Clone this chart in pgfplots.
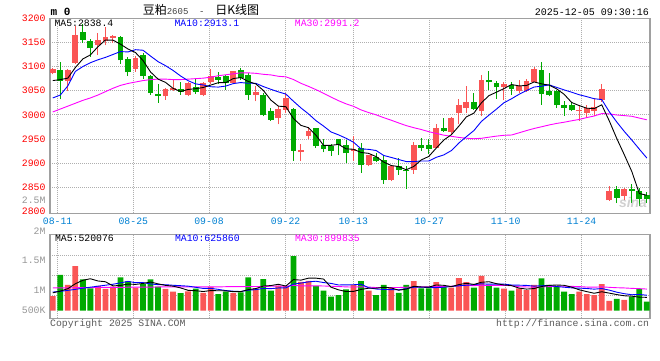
\documentclass[border=0pt]{standalone}
\usepackage{pgfplots}
\pgfplotsset{compat=1.18}
\usepackage{pgfplotstable}
\usepackage{fontspec}
\setmainfont{Liberation Mono}
\newfontfamily\mono{Liberation Mono}
\newfontfamily\cjk{Noto Sans CJK SC}
\newfontfamily\sansf{Liberation Sans}
\definecolor{cred}{RGB}{250,85,85}
\definecolor{cgreen}{RGB}{0,170,0}
\definecolor{cmag}{RGB}{255,0,255}
\definecolor{cblue}{RGB}{0,0,255}
\definecolor{cdate}{RGB}{0,128,210}
\definecolor{clab}{RGB}{150,150,150}
\definecolor{cframe}{RGB}{160,160,160}
\definecolor{cgrid}{RGB}{175,175,175}

% rising days: k O H L C V(million)
\pgfplotstableread{
k O H L C V
0 3087 3098 3084 3096 0.60
2 3071 3094 3049 3092 1.05
3 3108 3185 3106 3165 1.82
6 3144 3169 3124 3155 1.01
7 3153 3183 3144 3162 0.89
8 3159 3166 3149 3164 0.98
11 3094 3121 3089 3118 0.94
15 3038 3056 3031 3054 0.89
16 3051 3075 3049 3056 0.78
18 3042 3068 3038 3066 0.79
20 3042 3069 3038 3066 0.73
21 3069 3096 3063 3081 0.97
24 3066 3091 3063 3090 0.72
27 3041 3059 3028 3047 0.91
30 2994 3018 2980 3013 1.01
31 3011 3046 3004 3035 1.00
33 2922 2939 2904 2928 1.18
34 2956 2975 2949 2966 1.22
40 2926 2956 2904 2930 1.05
42 2897 2917 2893 2916 0.82
45 2864 2896 2862 2894 0.94
48 2885 2943 2878 2938 1.21
51 2932 2982 2931 2973 1.17
53 2964 2996 2961 2993 0.94
54 3003 3032 2980 3021 1.33
55 3014 3059 3004 3026 1.17
57 3007 3083 2997 3073 1.42
60 3057 3068 3030 3063 0.90
62 3049 3073 3045 3059 0.91
63 3049 3075 3048 3071 0.84
64 3069 3099 3068 3094 1.05
70 3009 3021 2987 3011 0.78
71 3003 3021 2994 3014 0.68
72 3007 3035 2998 3016 0.64
73 3030 3063 3027 3054 1.09
74 2823 2852 2822 2843 0.40
76 2832 2849 2823 2846 0.44
}\redtab

% falling days
\pgfplotstableread{
k O H L C V
1 3092 3109 3032 3071 1.46
4 3172 3189 3149 3155 1.28
5 3153 3157 3120 3138 0.91
9 3161 3164 3106 3113 1.36
10 3116 3119 3080 3088 1.20
12 3123 3128 3074 3080 1.08
13 3080 3082 3042 3045 1.28
14 3044 3064 3025 3039 0.98
17 3054 3069 3042 3048 0.72
19 3057 3076 3044 3047 0.90
22 3078 3088 3063 3073 0.68
23 3080 3082 3052 3066 0.78
25 3092 3098 3073 3076 0.75
26 3082 3087 3031 3041 1.36
28 3042 3045 2997 2999 1.29
29 3007 3014 2987 2990 0.82
32 3013 3015 2905 2925 2.23
35 2972 2973 2932 2935 1.01
36 2937 2950 2922 2930 0.82
37 2935 2940 2915 2925 0.57
38 2949 2950 2916 2938 0.64
39 2937 2947 2901 2920 0.87
41 2932 2942 2880 2897 1.21
43 2913 2921 2902 2904 0.64
44 2907 2917 2857 2864 1.05
46 2893 2911 2876 2886 0.73
47 2886 2895 2847 2883 1.05
49 2938 2952 2925 2932 0.91
50 2938 2949 2918 2930 0.91
52 2973 2993 2964 2966 0.98
56 3026 3045 3010 3012 0.94
58 3073 3090 3051 3067 1.05
59 3065 3070 3033 3057 0.94
61 3061 3069 3042 3054 0.82
65 3092 3110 3021 3043 1.32
66 3049 3087 3038 3041 1.05
67 3050 3051 3014 3020 0.98
68 3021 3028 2998 3015 0.78
69 3021 3026 3007 3009 0.68
75 2846 2852 2817 2828 0.48
77 2846 2856 2817 2842 0.55
78 2842 2849 2812 2826 0.89
79 2834 2841 2818 2825 0.37
}\greentab

% moving averages of price and volume
\pgfplotstableread{
k ma5 ma10 ma30 vma5 vma10 vma30
0 3071 3035 3006 0.73 0.76 0.93
1 3073 3041 3012 0.80 0.79 0.93
2 3076 3060 3018 0.90 0.83 0.93
3 3098 3090 3024 1.10 0.87 0.94
4 3115.8 3100 3030 1.242 0.92 0.94
5 3124.2 3108 3035 1.304 0.96 0.94
6 3141 3114 3041 1.214 1.00 0.95
7 3155 3119 3048 1.182 1.04 0.95
8 3154.8 3125 3055 1.014 1.08 0.95
9 3146.4 3131.1 3061 1.03 1.136 0.95
10 3136.4 3130.3 3065 1.088 1.196 0.96
11 3129 3135 3068 1.074 1.144 0.96
12 3112.6 3133.8 3071 1.112 1.147 0.96
13 3088.8 3121.8 3073 1.172 1.093 0.96
14 3074 3110.2 3074 1.096 1.063 0.97
15 3067.2 3101.8 3074 1.034 1.061 0.97
16 3054.8 3091.9 3073 1.002 1.038 0.97
17 3048.4 3080.5 3073 0.93 1.021 0.97
18 3052.6 3070.7 3074 0.832 1.002 0.97
19 3054.2 3064.1 3075 0.816 0.956 0.97
20 3056.6 3061.9 3076 0.784 0.909 0.97
21 3061.6 3058.2 3078 0.822 0.912 0.97
22 3066.6 3057.5 3081 0.814 0.872 0.97
23 3066.6 3059.6 3083 0.812 0.822 0.98
24 3075.2 3064.7 3085 0.776 0.796 0.98
25 3077.2 3066.9 3087 0.78 0.782 0.98
26 3069.2 3065.4 3087 0.858 0.84 0.98
27 3064 3065.3 3086 0.904 0.859 0.99
28 3050.6 3058.6 3084 1.006 0.909 0.99
29 3030.6 3052.9 3082.7 1.026 0.901 0.998
30 3018 3047.6 3079.9 1.078 0.929 1.011
31 3016.8 3043 3078.7 1.006 0.932 0.996
32 2992.4 3028.2 3073.2 1.27 1.087 1.035
33 2978.2 3014.4 3065.3 1.248 1.127 1.014
34 2973.4 3002 3059 1.328 1.177 1.012
35 2957.8 2987.9 3052.2 1.328 1.203 1.015
36 2936.8 2976.8 3044.7 1.292 1.149 1.009
37 2936.8 2964.6 3036.8 0.96 1.115 0.998
38 2938.8 2958.5 3029.3 0.852 1.05 0.987
39 2929.6 2951.5 3022.8 0.782 1.055 0.971
40 2928.6 2943.2 3017.6 0.79 1.059 0.966
41 2922 2929.4 3010.2 0.868 1.08 0.975
42 2920.2 2928.5 3004.7 0.918 0.939 0.966
43 2913.4 2926.1 3000 0.918 0.885 0.945
44 2902.2 2915.9 2994.2 0.954 0.868 0.947
45 2895 2911.8 2988.9 0.932 0.861 0.949
46 2892.8 2907.4 2983.2 0.836 0.852 0.947
47 2886.2 2903.2 2977.7 0.882 0.90 0.958
48 2893 2903.2 2973.4 0.996 0.957 0.972
49 2906.6 2904.4 2969.6 0.968 0.961 0.972
50 2913.8 2904.4 2965.1 0.962 0.947 0.978
51 2931.2 2912 2961.5 1.05 0.943 0.985
52 2947.8 2917 2957.9 1.036 0.959 0.995
53 2958.8 2925.9 2955.5 0.982 0.989 1.0
54 2976.6 2941.6 2953.2 1.066 1.017 1.021
55 2995.8 2954.8 2951.5 1.118 1.04 1.035
56 3003.6 2967.4 2950.5 1.072 1.061 1.021
57 3025 2986.4 2951.4 1.16 1.098 1.038
58 3039.8 2999.3 2953.7 1.182 1.082 1.03
59 3047 3011.8 2955.9 1.104 1.085 1.034
60 3054.4 3025.1 2957.6 1.05 1.084 1.03
61 3062.8 3033.2 2958.2 1.026 1.049 1.024
62 3060 3042.5 2962.7 0.924 1.042 0.98
63 3060.8 3050.3 2967.4 0.882 1.032 0.969
64 3068.2 3057.6 2971.7 0.904 1.004 0.963
65 3064.2 3059.3 2975.3 0.988 1.019 0.973
66 3061.6 3062.2 2979 1.034 1.03 0.981
67 3053.8 3056.9 2982.2 1.048 0.986 0.995
68 3042.6 3051.7 2984.7 1.036 0.959 0.999
69 3025.6 3046.9 2987.7 0.962 0.933 0.993
70 3019.2 3041.7 2990.4 0.854 0.921 0.984
71 3013.8 3037.7 2994.3 0.78 0.907 0.966
72 3013 3033.4 2997.6 0.712 0.88 0.96
73 3020.8 3031.7 3002.6 0.774 0.905 0.975
74 2987.6 3006.6 3001.9 0.718 0.84 0.954
75 2951 2985.1 2999.7 0.658 0.756 0.938
76 2917.4 2965.6 2998.4 0.61 0.695 0.929
77 2882.6 2947.8 2997 0.592 0.652 0.912
78 2837 2928.9 2993.3 0.552 0.663 0.901
79 2833.4 2910.5 2989.7 0.546 0.632 0.883
}\matab

\pgfplotsset{
  sinaax/.style={
    scale only axis, width=600pt,
    xmin=-0.37, xmax=79.42,
    axis line style={cframe, line width=1.3pt},
    grid=major,
    major grid style={cgrid, dash pattern=on 1pt off 1pt, line width=0.8pt},
    major tick length=0pt,
    xtick={0.65,10.71,20.77,30.97,39.96,50.07,60.23,70.33},
    clip=true,
  },
  wick/.style={draw=none, mark=none, forget plot,
    error bars/.cd, y dir=plus, y explicit, error mark=none,
    error bar style={draw=#1, line width=1pt}},
  body/.style={draw=none, mark=none, forget plot,
    error bars/.cd, y dir=plus, y explicit, error mark=none,
    error bar style={draw=#1, line width=5.8pt}},
}

\newcommand{\lab}{\mono\fontsize{9.8}{10}\selectfont}

\begin{document}
\begin{tikzpicture}[x=1pt,y=1pt]
\useasboundingbox (0,0) rectangle (660,360);

% ---------- price panel ----------
\begin{axis}[sinaax, at={(50pt,146.7pt)}, anchor=south west, height=195pt,
  ymin=2796, ymax=3200,
  ytick={2850,2900,2950,3000,3050,3100,3150},
  yticklabels={2850,2900,2950,3000,3050,3100,3150},
  extra y ticks={2800,3200}, extra y tick labels={2800,3200},
  extra y tick style={grid=none},
  yticklabel style={font=\lab, text=red, anchor=east, inner sep=0pt, xshift=-4.3pt},
  xticklabels={08-11,08-25,09-08,09-22,10-13,10-27,11-10,11-24},
  xticklabel style={font=\lab, text=cdate, anchor=center, inner sep=0pt, yshift=-7.6pt},
]
\addplot[wick=cred] table[x=k, y=L, y error expr=\thisrow{H}-\thisrow{L}] {\redtab};
\addplot[wick=cgreen] table[x=k, y=L, y error expr=\thisrow{H}-\thisrow{L}] {\greentab};
\addplot[body=cred] table[x=k, y=O, y error expr=\thisrow{C}-\thisrow{O}] {\redtab};
\addplot[body=cgreen] table[x=k, y=C, y error expr=\thisrow{O}-\thisrow{C}] {\greentab};
\addplot[cmag, line width=0.9pt, mark=none] table[x=k, y=ma30] {\matab};
\addplot[cblue, line width=0.9pt, mark=none] table[x=k, y=ma10] {\matab};
\addplot[black, line width=0.9pt, mark=none] table[x=k, y=ma5] {\matab};
\end{axis}

% ---------- volume panel ----------
\begin{axis}[sinaax, at={(50pt,41.7pt)}, anchor=south west, height=84pt,
  ymin=-0.31, ymax=3.118,
  ytick={0.641,1.457,2.273}, yticklabels={},
  xticklabels={},
]
\addplot[ybar, bar width=5.8pt, bar shift=0pt, fill=cred, draw=none] table[x=k, y=V] {\redtab};
\addplot[ybar, bar width=5.8pt, bar shift=0pt, fill=cgreen, draw=none] table[x=k, y=V] {\greentab};
\addplot[cmag, line width=0.9pt, mark=none] table[x=k, y=vma30] {\matab};
\addplot[cblue, line width=0.9pt, mark=none] table[x=k, y=vma10] {\matab};
\addplot[black, line width=0.9pt, mark=none] table[x=k, y=vma5] {\matab};
\end{axis}

% ---------- texts ----------
\node[anchor=west, inner sep=0pt, font=\mono\bfseries\fontsize{11}{11}\selectfont] at (50.5,348) {m 0};
\node[anchor=center, inner sep=0pt] at (201,350.5) {\cjk\fontsize{12}{12}\selectfont 豆粕{\mono\fontsize{9}{9}\selectfont\color{black!75}2605\ \ -\ \ }日K线图};
\node[anchor=east, inner sep=0pt, font=\mono\fontsize{10}{10}\selectfont] at (649,347.8) {2025-12-05 09:30:16};

\node[anchor=west, inner sep=0pt, font=\lab, text=black] at (54.3,336.4) {MA5:2838.4};
\node[anchor=west, inner sep=0pt, font=\lab, text=cblue] at (174.3,336.4) {MA10:2913.1};
\node[anchor=west, inner sep=0pt, font=\lab, text=cmag] at (294.7,336.4) {MA30:2991.2};

\node[anchor=west, inner sep=0pt, font=\lab, text=black] at (54.8,121.7) {MA5:520076};
\node[anchor=west, inner sep=0pt, font=\lab, text=cblue] at (174.8,121.7) {MA10:625860};
\node[anchor=west, inner sep=0pt, font=\lab, text=cmag] at (294.8,121.7) {MA30:899835};

\node[anchor=east, inner sep=0pt, font=\lab, text=clab] at (45.7,160) {2.5M};
\node[anchor=east, inner sep=0pt, font=\lab, text=clab] at (45.7,129) {2M};
\node[anchor=east, inner sep=0pt, font=\lab, text=clab] at (45.7,99.3) {1.5M};
\node[anchor=east, inner sep=0pt, font=\lab, text=clab] at (45.7,69.3) {1M};
\node[anchor=east, inner sep=0pt, font=\lab, text=clab] at (45.7,49.3) {500K};

\node[anchor=west, inner sep=0pt, font=\lab, text=black!65] at (50,36) {Copyright 2025 SINA.COM};
\node[anchor=east, inner sep=0pt, font=\lab, text=black!65] at (649.3,36) {http://finance.sina.com.cn};

\node[anchor=center, inner sep=0pt, opacity=0.45, text=black!40, font=\sansf\bfseries\itshape\fontsize{14}{14}\selectfont] at (633,158) {sina};
\end{tikzpicture}
\end{document}
